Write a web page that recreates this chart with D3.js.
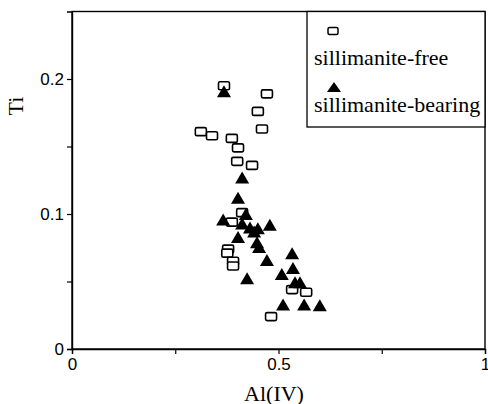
<!DOCTYPE html>
<html>
<head>
<meta charset="utf-8">
<script src="https://cdn.jsdelivr.net/npm/d3@7/dist/d3.min.js"></script>
<style>
  html, body { margin: 0; padding: 0; background: #fff; }
  svg { display: block; }
  .tick text { font-family: "Liberation Sans", Arial, sans-serif; font-size: 17px; fill: #000; }
</style>
</head>
<body>
<svg id="chart" width="488" height="404"></svg>
<script>
// Ti vs Al(IV) for two sample groups
const freeAl  = [0.368, 0.472, 0.450, 0.460, 0.312, 0.339, 0.387, 0.402, 0.400, 0.436,
                 0.412, 0.387, 0.378, 0.376, 0.390, 0.390, 0.533, 0.567, 0.482];
const freeTi  = [0.195, 0.189, 0.176, 0.163, 0.161, 0.158, 0.156, 0.149, 0.139, 0.136,
                 0.101, 0.094, 0.074, 0.071, 0.065, 0.0615, 0.044, 0.042, 0.024];

const bearAl  = [0.368, 0.412, 0.402, 0.421, 0.366, 0.412, 0.431, 0.450, 0.441, 0.479,
                 0.402, 0.448, 0.453, 0.472, 0.533, 0.535, 0.424, 0.508, 0.540, 0.552,
                 0.511, 0.562, 0.600];
const bearTi  = [0.191, 0.127, 0.112, 0.100, 0.096, 0.093, 0.090, 0.0895, 0.087, 0.092,
                 0.083, 0.079, 0.0755, 0.066, 0.071, 0.060, 0.0525, 0.0555, 0.0495, 0.0495,
                 0.033, 0.033, 0.0325];

const xTicks = [0, 0.25, 0.5, 0.75, 1];
const xTickLabels = ["0", "", "0.5", "", "1"];
const yTicks = [0, 0.05, 0.1, 0.15, 0.2];
const yTickLabels = ["0", "", "0.1", "", "0.2"];
const seriesNames = ["sillimanite-free", "sillimanite-bearing"];
const xTitle = "Al(IV)";
const yTitle = "Ti";

const svg = d3.select("#chart");
const L = 72, R = 485, T = 11.5, B = 349;

const x = d3.scaleLinear().domain([0, 1]).range([L, R]);
const y = d3.scaleLinear().domain([0, 0.25]).range([B, T]);

const serif = "'Liberation Serif', 'Times New Roman', serif";

// frame
svg.append("rect")
  .attr("x", L).attr("y", T).attr("width", R - L).attr("height", B - T)
  .attr("fill", "none").attr("stroke", "#000").attr("stroke-width", 1.4);

// axes
const xAxis = d3.axisBottom(x).tickValues(xTicks)
  .tickFormat((d, i) => xTickLabels[i]).tickSize(5).tickPadding(4);
const gx = svg.append("g").attr("transform", `translate(0,${B})`).call(xAxis);
gx.select(".domain").attr("stroke-width", 1.4);
gx.selectAll(".tick line").attr("stroke-width", 1.2);

const yAxis = d3.axisLeft(y).tickValues(yTicks)
  .tickFormat((d, i) => yTickLabels[i]).tickSize(5).tickPadding(3);
const gy = svg.append("g").attr("transform", `translate(${L},0)`).call(yAxis);
gy.select(".domain").attr("stroke-width", 1.4);
gy.selectAll(".tick line").attr("stroke-width", 1.2);

// axis titles
svg.append("text")
  .attr("x", 274).attr("y", 401)
  .attr("text-anchor", "middle")
  .attr("font-family", serif).attr("font-size", 22)
  .text(xTitle);

svg.append("text")
  .attr("transform", "translate(23,106) rotate(-90)")
  .attr("text-anchor", "middle")
  .attr("font-family", serif).attr("font-size", 22)
  .text(yTitle);

// marker shapes
const sqW = 11, sqH = 8;
const triPath = (w, h) => `M0,${-h / 2}L${w / 2},${h / 2}L${-w / 2},${h / 2}Z`;

const freeData = freeAl.map((a, i) => ({ al: a, ti: freeTi[i] }));
const bearData = bearAl.map((a, i) => ({ al: a, ti: bearTi[i] }));

svg.append("g").selectAll("rect")
  .data(freeData).join("rect")
  .attr("x", d => x(d.al) - sqW / 2)
  .attr("y", d => y(d.ti) - sqH / 2)
  .attr("width", sqW).attr("height", sqH)
  .attr("rx", 1.5)
  .attr("fill", "#fff").attr("stroke", "#000").attr("stroke-width", 1.6);

svg.append("g").selectAll("path")
  .data(bearData).join("path")
  .attr("d", triPath(14, 12))
  .attr("transform", d => `translate(${x(d.al)},${y(d.ti)})`)
  .attr("fill", "#000");

// legend
const lg = svg.append("g");
lg.append("rect")
  .attr("x", 307).attr("y", T).attr("width", R - 307).attr("height", 127 - T)
  .attr("fill", "#fff").attr("stroke", "#000").attr("stroke-width", 1.3);
lg.append("rect")
  .attr("x", 328).attr("y", 27.5).attr("width", 10).attr("height", 7).attr("rx", 1.5)
  .attr("fill", "#fff").attr("stroke", "#000").attr("stroke-width", 1.5);
lg.append("text")
  .attr("x", 314).attr("y", 65)
  .attr("font-family", serif).attr("font-size", 22)
  .text(seriesNames[0]);
lg.append("path")
  .attr("d", triPath(14, 10))
  .attr("transform", "translate(334,87)")
  .attr("fill", "#000");
lg.append("text")
  .attr("x", 314).attr("y", 112)
  .attr("font-family", serif).attr("font-size", 22)
  .text(seriesNames[1]);
</script>
</body>
</html>
